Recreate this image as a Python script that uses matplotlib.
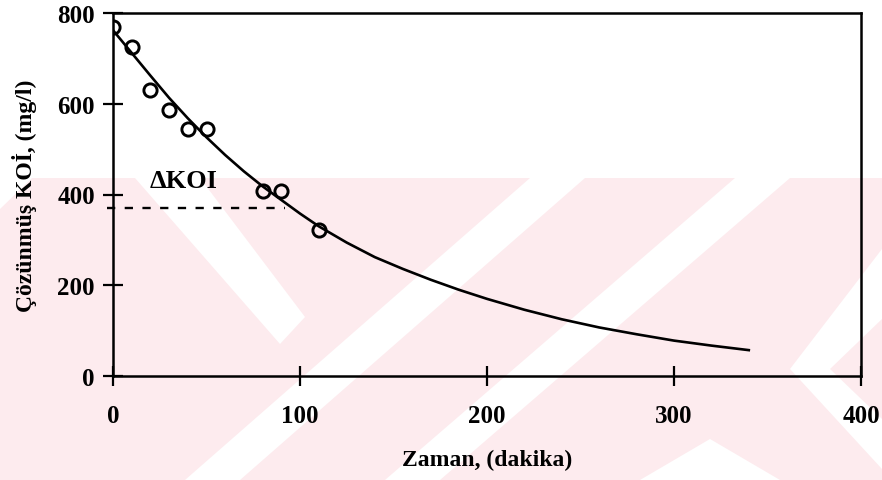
import matplotlib
matplotlib.use("Agg")
import matplotlib.pyplot as plt
from matplotlib.patches import Polygon

# --- data ---
time_pts = [0, 10, 20, 30, 40, 50, 80, 90, 110]
koi_pts = [770, 725, 630, 586, 544, 544, 408, 408, 322]

fit_time = [0, 10, 20, 30, 40, 50, 60, 70, 80, 90, 100, 110, 125, 140,
            155, 170, 185, 200, 220, 240, 260, 280, 300, 320, 340]
fit_koi = [762, 712, 662, 613, 568, 526, 487, 451, 418, 388, 358, 330, 294,
           262, 236, 212, 190, 170, 146, 125, 107, 92, 78, 67, 57]

dkoi_time = [-3, 92]
dkoi_level = [370, 370]

x_ticks = [0, 100, 200, 300, 400]
y_ticks = [0, 200, 400, 600, 800]

plt.rcParams['font.family'] = ['Liberation Serif', 'DejaVu Serif']
plt.rcParams['font.weight'] = 'bold'

W, H = 882, 481
fig = plt.figure(figsize=(W / 100, H / 100), dpi=100)


def px(pts):
    return [(x / W, 1 - y / H) for x, y in pts]


# --- pale scan watermark behind the chart ---
pink = '#fdebee'
fig.patches.append(Polygon(px([(0, 179), (W, 179), (W, H), (0, H)]),
                           closed=True, transform=fig.transFigure,
                           facecolor=pink, edgecolor='none', zorder=0))
white_shapes = [
    [(0, 179), (32, 179), (0, 210)],
    [(135, 179), (200, 179), (305, 318), (280, 345)],
    [(530, 179), (585, 179), (240, H), (185, H)],
    [(735, 179), (790, 179), (440, H), (385, H)],
    [(640, H), (710, 440), (780, H)],
    [(882, 250), (882, 320), (830, 370), (882, 420), (882, 470), (790, 370)],
]
for shp in white_shapes:
    fig.patches.append(Polygon(px(shp), closed=True, transform=fig.transFigure,
                               facecolor='white', edgecolor='none', zorder=0))

ax = fig.add_axes([113 / W, 1 - 377 / H, (861 - 113) / W, 363 / H])
ax.set_facecolor('none')
ax.set_zorder(2)

ax.plot(fit_time, fit_koi, color='black', lw=1.9, zorder=3)
ax.plot(time_pts, koi_pts, linestyle='none', marker='o', markersize=9.5,
        markerfacecolor='none', markeredgecolor='black', markeredgewidth=2.1,
        zorder=4)
ax.plot(dkoi_time, dkoi_level, color='black', lw=1.7,
        linestyle=(0, (3.5, 4)), zorder=3, clip_on=False)
ax.text(38, 430, 'ΔKOI', ha='center', va='center', fontsize=19,
        fontweight='bold')

ax.set_xlim(0, 400)
ax.set_ylim(0, 800)
ax.set_xticks(x_ticks)
ax.set_yticks(y_ticks)
ax.tick_params(axis='both', direction='inout', length=14, width=1.6,
               labelsize=18)
ax.tick_params(axis='x', pad=13)
ax.tick_params(axis='y', pad=6)
for lab in ax.get_xticklabels() + ax.get_yticklabels():
    lab.set_fontweight('bold')
for sp in ax.spines.values():
    sp.set_linewidth(1.8)

ax.set_xlabel('Zaman, (dakika)', fontsize=17, fontweight='bold', va='center')
ax.xaxis.set_label_coords(0.5, -(460 - 377) / 363)
ax.set_ylabel('Çözünmüş KOİ, (mg/l)', fontsize=17, fontweight='bold',
              va='center')
ax.yaxis.set_label_coords((25 - 113) / 748, 0.5)

fig.savefig('out.png', dpi=100)
